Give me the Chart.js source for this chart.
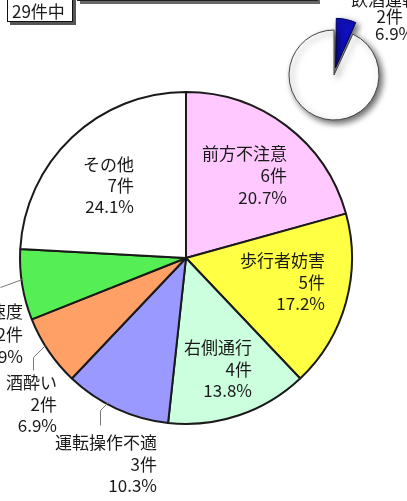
<!DOCTYPE html>
<html>
<head>
<meta charset="utf-8">
<script src="https://cdn.jsdelivr.net/npm/chart.js@4/dist/chart.umd.min.js"></script>
<style>
  html, body { margin:0; padding:0; background:#fff; overflow:hidden; }
  #wrap { position:relative; width:407px; height:501px; }
  #main { position:absolute; left:0; top:0; }
  #inset { position:absolute; left:260px; top:0; }
</style>
</head>
<body>
<div id="wrap">
  <canvas id="main" width="407" height="501"></canvas>
  <canvas id="inset" width="147" height="140"></canvas>
</div>
<script>
// ---- data ----
const categories = ['前方不注意', '歩行者妨害', '右側通行', '運転操作不適', '酒酔い', '安全速度', 'その他'];
const counts = [6, 5, 4, 3, 2, 2, 7];
const percents = ['20.7%', '17.2%', '13.8%', '10.3%', '6.9%', '6.9%', '24.1%'];
const insetCategories = ['飲酒運転', 'その他'];
const insetCounts = [2, 27];
const insetPercents = ['6.9%', ''];
const totalLabel = '29件中';

// ---- styles / layout ----
const sliceColors = ['#FFC8FF', '#FFFF44', '#CCFFDD', '#9999FF', '#FFA066', '#55EE55', '#FFFFFF'];
const FONT = '17px "Noto Sans CJK JP", "Noto Sans", sans-serif';
const TEXT = '#1a1a1a';
const labelLayout = [
  { x: 287, y: 154, lh: 22 },
  { x: 325, y: 261, lh: 21.5 },
  { x: 252, y: 348, lh: 21.5 },
  { x: 157, y: 443, lh: 21.5 },
  { x: 57,  y: 383, lh: 21.5 },
  { x: 23,  y: 312, lh: 22.5 },
  { x: 134, y: 165, lh: 21 }
];
const leaders = [
  [[0, 287], [22, 279]],
  [[33, 370], [33, 357], [45, 345]],
  [[100, 425], [100, 410], [108, 402]]
];

const labelPlugin = {
  id: 'mainLabels',
  afterDraw(chart) {
    const ctx = chart.ctx;
    ctx.save();
    // "29件中" box
    ctx.fillStyle = '#555';
    ctx.fillRect(10, -5, 66, 30);
    ctx.fillStyle = '#fff';
    ctx.fillRect(7, -8, 66, 30);
    ctx.strokeStyle = '#111';
    ctx.lineWidth = 1;
    ctx.strokeRect(7.5, -8.5, 65, 30);
    // top title box (cropped)
    ctx.fillStyle = '#666';
    ctx.fillRect(80, -20, 240, 24);
    ctx.fillStyle = '#fff';
    ctx.fillRect(77, -23, 240, 24);
    ctx.strokeStyle = '#222';
    ctx.strokeRect(77.5, -23.5, 240, 24);

    ctx.font = FONT;
    ctx.fillStyle = TEXT;
    ctx.textBaseline = 'middle';
    ctx.textAlign = 'left';
    ctx.fillText(totalLabel, 12, 12);

    ctx.textAlign = 'right';
    categories.forEach((c, i) => {
      const L = labelLayout[i];
      [c, counts[i] + '件', percents[i]].forEach((t, k) => ctx.fillText(t, L.x, L.y + k * L.lh));
    });

    // inset label (top right, partly cropped)
    ctx.textAlign = 'left';
    ctx.fillText(insetCategories[0], 351, 0);
    ctx.textAlign = 'right';
    ctx.fillText(insetCounts[0] + '件', 403, 17);
    ctx.textAlign = 'left';
    ctx.fillText(insetPercents[0], 375, 34);

    // leader lines
    ctx.strokeStyle = '#777';
    ctx.lineWidth = 1;
    leaders.forEach(pts => {
      ctx.beginPath();
      pts.forEach((p, k) => k ? ctx.lineTo(p[0] + 0.5, p[1] + 0.5) : ctx.moveTo(p[0] + 0.5, p[1] + 0.5));
      ctx.stroke();
    });
    ctx.restore();
  }
};

new Chart(document.getElementById('main'), {
  type: 'pie',
  data: {
    labels: categories,
    datasets: [{
      data: counts,
      backgroundColor: sliceColors,
      borderColor: '#1a1a1a',
      borderWidth: 2,
      borderAlign: 'center'
    }]
  },
  options: {
    responsive: false,
    animation: false,
    layout: { padding: { left: 19, right: 54, top: 91, bottom: 76 } },
    plugins: { legend: { display: false }, tooltip: { enabled: false } }
  },
  plugins: [labelPlugin]
});

const shadowPlugin = {
  id: 'shadow',
  beforeDatasetsDraw(chart) {
    const ctx = chart.ctx;
    ctx.save();
    ctx.shadowColor = 'rgba(0,0,0,0.6)';
    ctx.shadowBlur = 6;
    ctx.shadowOffsetX = 3;
    ctx.shadowOffsetY = 3;
  },
  afterDatasetsDraw(chart) {
    chart.ctx.restore();
  }
};

new Chart(document.getElementById('inset'), {
  type: 'pie',
  data: {
    labels: insetCategories,
    datasets: [{
      data: insetCounts,
      backgroundColor: ['#1010C0', '#FFFFFF'],
      borderColor: ['#000060', '#444'],
      borderWidth: 1,
      offset: [30, 0]
    }]
  },
  options: {
    responsive: false,
    animation: false,
    layout: { padding: { left: 13.5, right: 12.5, top: 14.5, bottom: 4.5 } },
    plugins: { legend: { display: false }, tooltip: { enabled: false } }
  },
  plugins: [shadowPlugin]
});
</script>
</body>
</html>
